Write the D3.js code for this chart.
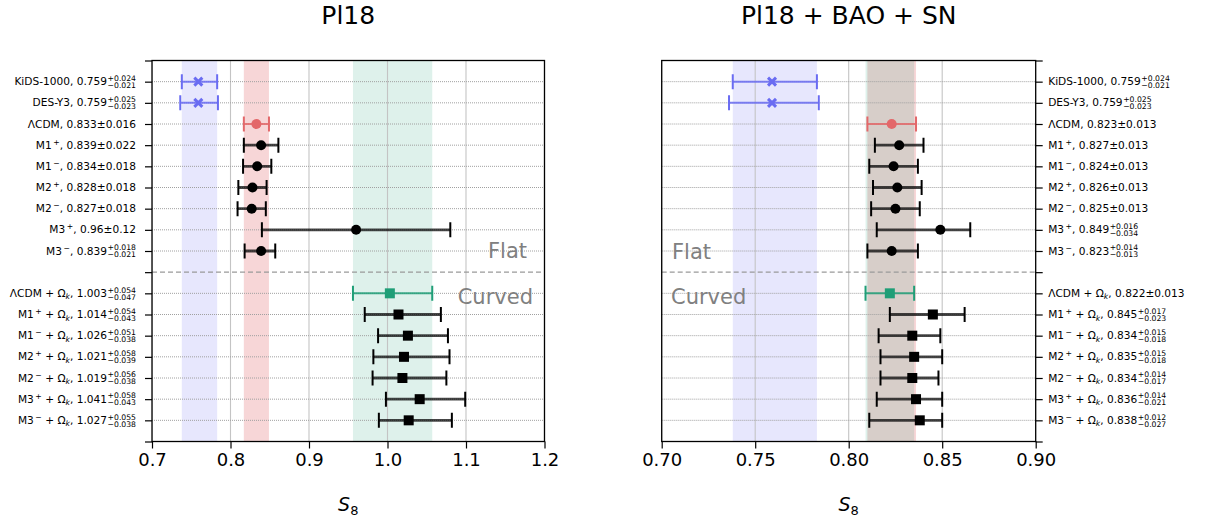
<!DOCTYPE html>
<html>
<head>
<meta charset="utf-8">
<script src="https://cdn.jsdelivr.net/npm/d3@7"></script>
<style>
  html, body { margin: 0; padding: 0; background: #fff; }
  svg { display: block; font-family: "DejaVu Sans", sans-serif; }
</style>
</head>
<body>
<svg id="chart" width="1206" height="523"></svg>
<script>
// ---------------- DATA ----------------
const modelNames = ["KiDS-1000", "DES-Y3", "ΛCDM", "M1", "M1", "M2", "M2", "M3", "M3",
                    "ΛCDM", "M1", "M1", "M2", "M2", "M3", "M3"];
const modelSigns = [null, null, null, "+", "−", "+", "−", "+", "−",
                    null, "+", "−", "+", "−", "+", "−"];
const curvedFlags = [false, false, false, false, false, false, false, false, false,
                     true, true, true, true, true, true, true];
const rowPositions = [0, 1, 2, 3, 4, 5, 6, 7, 8, 10, 11, 12, 13, 14, 15, 16];
const markerKinds = ["x", "x", "refCircle", "circle", "circle", "circle", "circle", "circle", "circle",
                     "refSquare", "square", "square", "square", "square", "square", "square"];

// Pl18
const pl18Value = [0.759, 0.759, 0.833, 0.839, 0.834, 0.828, 0.827, 0.96, 0.839,
                   1.003, 1.014, 1.026, 1.021, 1.019, 1.041, 1.027];
const pl18Plus  = [0.024, 0.025, 0.016, 0.022, 0.018, 0.018, 0.018, 0.12, 0.018,
                   0.054, 0.054, 0.051, 0.058, 0.056, 0.058, 0.055];
const pl18Minus = [0.021, 0.023, 0.016, 0.022, 0.018, 0.018, 0.018, 0.12, 0.021,
                   0.047, 0.043, 0.038, 0.039, 0.038, 0.043, 0.038];

// Pl18 + BAO + SN
const fullValue = [0.759, 0.759, 0.823, 0.827, 0.824, 0.826, 0.825, 0.849, 0.823,
                   0.822, 0.845, 0.834, 0.835, 0.834, 0.836, 0.838];
const fullPlus  = [0.024, 0.025, 0.013, 0.013, 0.013, 0.013, 0.013, 0.016, 0.014,
                   0.013, 0.017, 0.015, 0.015, 0.014, 0.014, 0.012];
const fullMinus = [0.021, 0.023, 0.013, 0.013, 0.013, 0.013, 0.013, 0.034, 0.013,
                   0.013, 0.023, 0.018, 0.018, 0.017, 0.021, 0.027];

const pl18Ticks = [0.7, 0.8, 0.9, 1.0, 1.1, 1.2];
const fullTicks = [0.70, 0.75, 0.80, 0.85, 0.90];
const titles = ["Pl18", "Pl18 + BAO + SN"];

// ---------------- STYLE ----------------
const BLUE = "#6a6cf2", RED = "#e3686a", GREEN = "#1f9e77";
const svg = d3.select("#chart");
const yTop = 60.5, yBot = 441.5;
const y = d3.scaleLinear().domain([-1, 17]).range([yTop, yBot]);

const panels = [
  { title: titles[0], x0: 152, x1: 544.5, domain: [0.7, 1.2], ticks: pl18Ticks, fmt: d3.format(".1f"),
    vals: pl18Value, plus: pl18Plus, minus: pl18Minus, labelSide: "left",
    flat: { x: 527, y: 258, anchor: "end" }, curved: { x: 533, y: 304, anchor: "end" } },
  { title: titles[1], x0: 661.7, x1: 1035.7, domain: [0.70, 0.90], ticks: fullTicks, fmt: d3.format(".2f"),
    vals: fullValue, plus: fullPlus, minus: fullMinus, labelSide: "right",
    flat: { x: 672, y: 259, anchor: "start" }, curved: { x: 671, y: 304, anchor: "start" } }
];

function str(n) { return String(n); }

panels.forEach(p => {
  const x = d3.scaleLinear().domain(p.domain).range([p.x0, p.x1]);
  const g = svg.append("g");
  const clipId = "clip" + p.labelSide;
  svg.append("clipPath").attr("id", clipId).append("rect")
    .attr("x", p.x0).attr("y", yTop).attr("width", p.x1 - p.x0).attr("height", yBot - yTop);
  const plot = g.append("g").attr("clip-path", `url(#${clipId})`);

  // Bands: KiDS (index 0), ΛCDM (index 2), ΛCDM+Ωk (index 9)
  const bands = [[0, BLUE, 0.16], [2, RED, 0.27], [9, GREEN, 0.15]];
  bands.forEach(([i, c, a]) => {
    plot.append("rect")
      .attr("x", x(p.vals[i] - p.minus[i]))
      .attr("width", x(p.vals[i] + p.plus[i]) - x(p.vals[i] - p.minus[i]))
      .attr("y", yTop).attr("height", yBot - yTop)
      .attr("fill", c).attr("fill-opacity", a);
  });

  // vertical grid
  plot.selectAll(".vg").data(p.ticks).enter().append("line")
    .attr("x1", d => x(d)).attr("x2", d => x(d)).attr("y1", yTop).attr("y2", yBot)
    .attr("stroke", "#c4c4c4").attr("stroke-width", 1.1);
  // horizontal grid
  plot.selectAll(".hg").data(rowPositions).enter().append("line")
    .attr("x1", p.x0).attr("x2", p.x1).attr("y1", d => y(d)).attr("y2", d => y(d))
    .attr("stroke", "#a0a0a0").attr("stroke-width", 1).attr("stroke-dasharray", "1,1");
  // dashed separator
  plot.append("line").attr("x1", p.x0).attr("x2", p.x1).attr("y1", y(9)).attr("y2", y(9))
    .attr("stroke", "#9a9a9a").attr("stroke-width", 1.2).attr("stroke-dasharray", "5,3");

  // error bars and markers
  p.vals.forEach((v, i) => {
    const yy = y(rowPositions[i]);
    const kind = markerKinds[i];
    const color = kind === "x" ? BLUE : kind === "refCircle" ? RED : kind === "refSquare" ? GREEN : "#000";
    const colored = color !== "#000";
    const lo = x(v - p.minus[i]), hi = x(v + p.plus[i]);
    plot.append("line").attr("x1", lo).attr("x2", hi).attr("y1", yy).attr("y2", yy)
      .attr("stroke", color).attr("stroke-width", colored ? 2 : 2.8)
      .attr("stroke-opacity", colored ? 0.85 : 0.72);
    [lo, hi].forEach(cx => {
      plot.append("line").attr("x1", cx).attr("x2", cx).attr("y1", yy - 7.5).attr("y2", yy + 7.5)
        .attr("stroke", color).attr("stroke-width", 2);
    });
    const mx = x(v);
    if (kind === "x") {
      const s = 4;
      plot.append("path").attr("d", `M${mx - s},${yy - s}L${mx + s},${yy + s}M${mx - s},${yy + s}L${mx + s},${yy - s}`)
        .attr("stroke", color).attr("stroke-width", 3);
    } else if (kind === "circle" || kind === "refCircle") {
      plot.append("circle").attr("cx", mx).attr("cy", yy).attr("r", 5).attr("fill", color);
    } else {
      plot.append("rect").attr("x", mx - 5).attr("y", yy - 5).attr("width", 10).attr("height", 10).attr("fill", color);
    }
  });

  // Flat / Curved
  g.append("text").attr("x", p.flat.x).attr("y", p.flat.y).attr("text-anchor", p.flat.anchor)
    .attr("font-size", 21).attr("fill", "#808080").text("Flat");
  g.append("text").attr("x", p.curved.x).attr("y", p.curved.y).attr("text-anchor", p.curved.anchor)
    .attr("font-size", 21).attr("fill", "#808080").text("Curved");

  // frame
  g.append("rect").attr("x", p.x0).attr("y", yTop).attr("width", p.x1 - p.x0).attr("height", yBot - yTop)
    .attr("fill", "none").attr("stroke", "#000").attr("stroke-width", 1.3);

  // x axis
  const xAxis = d3.axisBottom(x).tickValues(p.ticks).tickFormat(p.fmt).tickSize(7).tickPadding(5);
  const xa = g.append("g").attr("transform", `translate(0,${yBot})`).call(xAxis);
  xa.select(".domain").remove();
  xa.selectAll(".tick line").attr("stroke", "#000").attr("stroke-width", 1.2);
  xa.selectAll(".tick text").attr("font-size", 18).attr("font-family", "DejaVu Sans").attr("fill", "#000");

  // y axis ticks (all integer positions)
  const yTicks = d3.range(-1, 18);
  const left = p.labelSide === "left";
  const yAxis = (left ? d3.axisLeft(y) : d3.axisRight(y)).tickValues(yTicks).tickFormat("").tickSize(7);
  const ya = g.append("g").attr("transform", `translate(${left ? p.x0 : p.x1},0)`).call(yAxis);
  ya.select(".domain").remove();
  ya.selectAll(".tick line").attr("stroke", "#000").attr("stroke-width", 1.2);

  // y labels
  p.vals.forEach((v, i) => {
    const yy = y(rowPositions[i]) + 3.6;
    const lg = g.append("g");
    const main = lg.append("text").attr("font-size", 10.6).attr("fill", "#000").attr("y", yy);
    main.append("tspan").text(modelNames[i]);
    let pendingDy = 0;
    if (modelSigns[i]) {
      main.append("tspan").attr("dy", -4).attr("font-size", 7.7).text("\u2009" + modelSigns[i]);
      pendingDy = 4;
    }
    if (curvedFlags[i]) {
      main.append("tspan").attr("dy", pendingDy).text(" + Ω");
      main.append("tspan").attr("dy", 2.5).attr("font-size", 7.7).attr("font-style", "italic").text("k");
      pendingDy = -2.5;
    }
    const sym = p.plus[i] === p.minus[i];
    main.append("tspan").attr("dy", pendingDy).text(", " + str(v) + (sym ? "±" + str(p.plus[i]) : ""));
    let scripts = null;
    if (!sym) {
      scripts = lg.append("g");
      scripts.append("text").attr("font-size", 7.7).attr("y", yy - 4.3).attr("fill", "#000").text("+" + str(p.plus[i]));
      scripts.append("text").attr("font-size", 7.7).attr("y", yy + 2.7).attr("fill", "#000").text("−" + str(p.minus[i]));
    }
    if (left) {
      const xEnd = p.x0 - 16;
      let w = 0;
      if (scripts) {
        scripts.selectAll("text").each(function () { w = Math.max(w, this.getComputedTextLength()); });
        scripts.selectAll("text").attr("x", xEnd - w);
      }
      main.attr("x", xEnd - w - (scripts ? 0.5 : 0)).attr("text-anchor", "end");
    } else {
      const xStart = p.x1 + 12.5;
      main.attr("x", xStart).attr("text-anchor", "start");
      if (scripts) {
        const L = main.node().getComputedTextLength();
        scripts.selectAll("text").attr("x", xStart + L + 0.5);
      }
    }
  });

  // title
  g.append("text").attr("x", (p.x0 + p.x1) / 2).attr("y", 24).attr("text-anchor", "middle")
    .attr("font-size", 25).attr("fill", "#000").text(p.title);

  // x label
  const xl = g.append("text").attr("x", (p.x0 + p.x1) / 2).attr("y", 511).attr("text-anchor", "middle")
    .attr("font-size", 19).attr("fill", "#000");
  xl.append("tspan").attr("font-style", "italic").text("S");
  xl.append("tspan").attr("dy", 4).attr("font-size", 13).text("8");
});
</script>
</body>
</html>
